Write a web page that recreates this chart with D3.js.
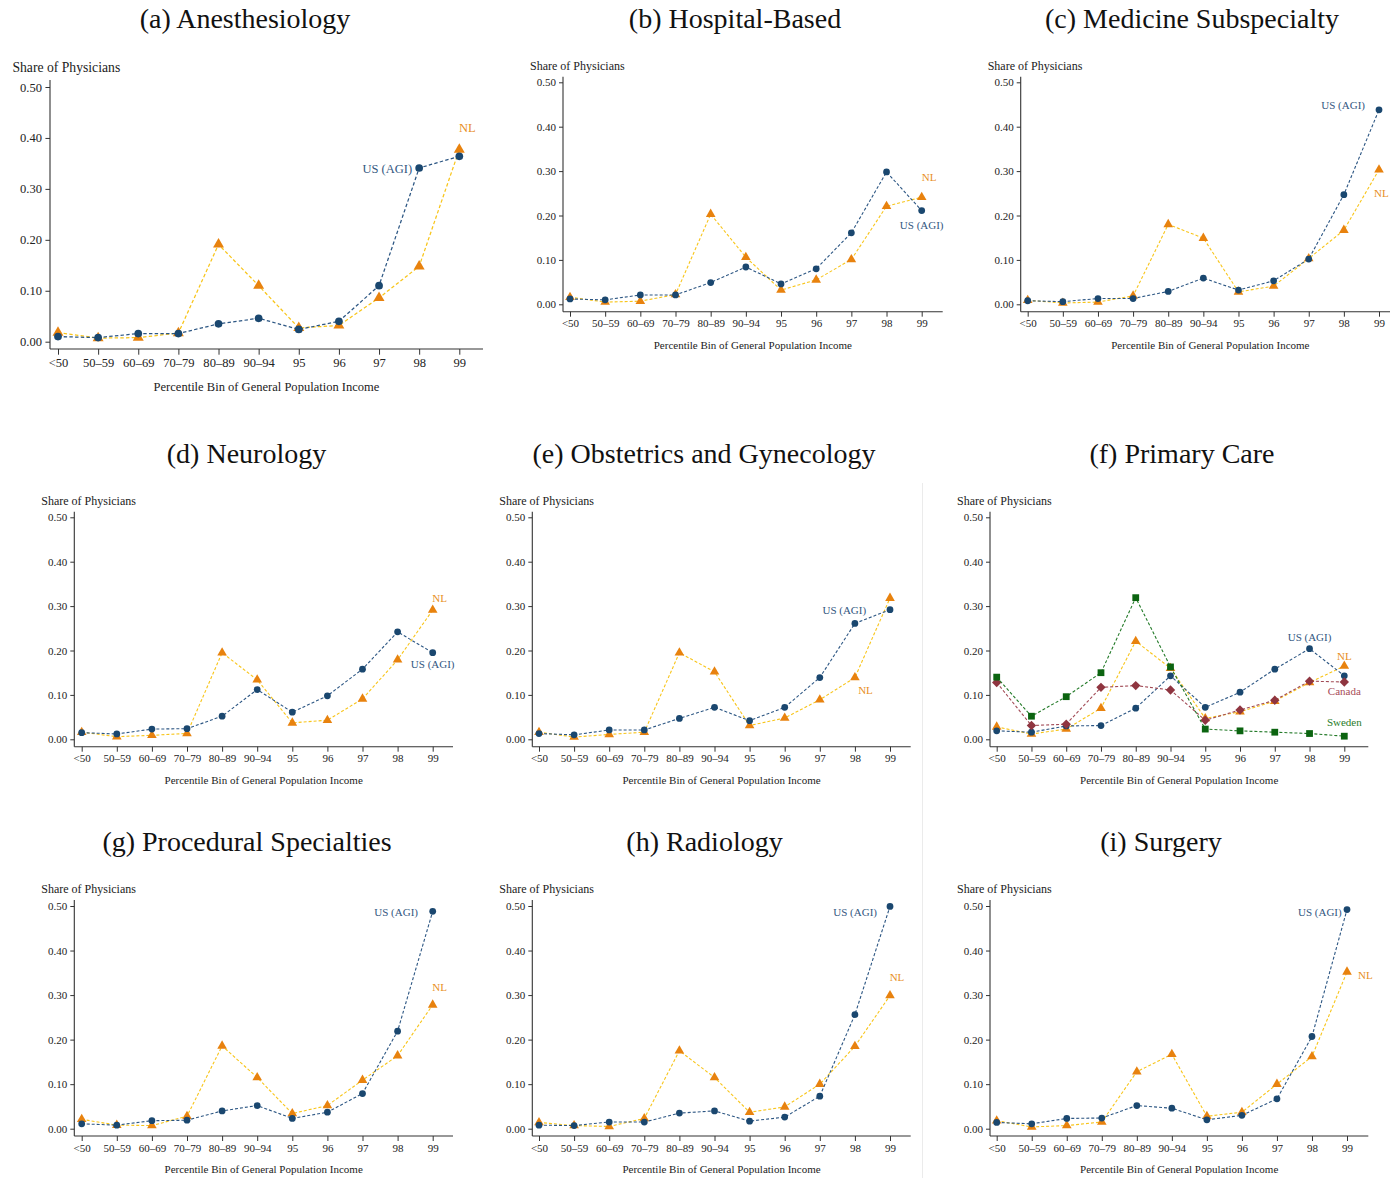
<!DOCTYPE html>
<html>
<head>
<meta charset="utf-8">
<script src="https://cdn.jsdelivr.net/npm/d3@7"></script>
<style>
  body { margin: 0; background: #fff; }
  svg { display: block; }
  text { font-family: "Liberation Serif", "Times New Roman", serif; }
</style>
</head>
<body>
<svg id="chart" width="1390" height="1178"></svg>
<script>
// ---- data -------------------------------------------------------------
const bins = ["<50", "50–59", "60–69", "70–79", "80–89", "90–94", "95", "96", "97", "98", "99"];
const yTicks = [0, 0.1, 0.2, 0.3, 0.4, 0.5];
const seriesNames = { us: "US (AGI)", nl: "NL", ca: "Canada", se: "Sweden" };

const anesthesiologyUS = [0.010, 0.008, 0.016, 0.016, 0.035, 0.046, 0.024, 0.040, 0.110, 0.341, 0.364];
const anesthesiologyNL = [0.018, 0.007, 0.008, 0.017, 0.191, 0.110, 0.027, 0.032, 0.086, 0.148, 0.377];
const hospitalUS = [0.012, 0.010, 0.021, 0.021, 0.049, 0.084, 0.046, 0.080, 0.161, 0.298, 0.211];
const hospitalNL = [0.016, 0.005, 0.007, 0.022, 0.203, 0.106, 0.032, 0.055, 0.101, 0.221, 0.241];
const medicineUS = [0.008, 0.006, 0.013, 0.013, 0.029, 0.059, 0.032, 0.053, 0.102, 0.247, 0.438];
const medicineNL = [0.009, 0.003, 0.005, 0.019, 0.180, 0.149, 0.028, 0.041, 0.103, 0.167, 0.303];
const neurologyUS = [0.015, 0.012, 0.023, 0.024, 0.052, 0.112, 0.061, 0.098, 0.158, 0.242, 0.195];
const neurologyNL = [0.016, 0.006, 0.009, 0.013, 0.195, 0.134, 0.037, 0.043, 0.091, 0.179, 0.291];
const obgynUS = [0.013, 0.010, 0.021, 0.021, 0.047, 0.072, 0.042, 0.072, 0.139, 0.261, 0.292];
const obgynNL = [0.016, 0.005, 0.011, 0.016, 0.195, 0.152, 0.031, 0.048, 0.089, 0.139, 0.318];
const primaryUS = [0.019, 0.016, 0.030, 0.031, 0.070, 0.143, 0.072, 0.106, 0.158, 0.204, 0.143];
const primaryNL = [0.028, 0.012, 0.023, 0.070, 0.221, 0.160, 0.047, 0.062, 0.086, 0.128, 0.165];
const primaryCA = [0.128, 0.031, 0.034, 0.117, 0.121, 0.111, 0.043, 0.066, 0.088, 0.131, 0.129];
const primarySE = [0.140, 0.052, 0.096, 0.150, 0.319, 0.163, 0.023, 0.019, 0.016, 0.013, 0.007];
const proceduralUS = [0.011, 0.008, 0.018, 0.019, 0.040, 0.052, 0.023, 0.037, 0.079, 0.219, 0.488];
const proceduralNL = [0.021, 0.008, 0.007, 0.028, 0.186, 0.115, 0.034, 0.052, 0.109, 0.164, 0.278];
const radiologyUS = [0.008, 0.007, 0.015, 0.015, 0.035, 0.040, 0.017, 0.026, 0.073, 0.256, 0.499];
const radiologyNL = [0.014, 0.007, 0.005, 0.023, 0.175, 0.115, 0.037, 0.049, 0.100, 0.185, 0.299];
const surgeryUS = [0.014, 0.011, 0.023, 0.024, 0.052, 0.046, 0.020, 0.030, 0.067, 0.207, 0.492];
const surgeryNL = [0.018, 0.004, 0.007, 0.015, 0.128, 0.167, 0.028, 0.037, 0.100, 0.162, 0.352];

// ---- series styling ---------------------------------------------------
const diamond = {
  draw(ctx, size) {
    const r = Math.sqrt(size / 2);
    ctx.moveTo(0, -r); ctx.lineTo(r, 0); ctx.lineTo(0, r); ctx.lineTo(-r, 0); ctx.closePath();
  }
};
const styles = {
  us: { marker: "#1a476f", line: "#2c5683", label: "#33577f", symbol: d3.symbolCircle, size: 36 },
  nl: { marker: "#e8820e", line: "#f8c51a", label: "#e88f1e", symbol: d3.symbolTriangle, size: 40 },
  ca: { marker: "#8f3540", line: "#a24b56", label: "#a84c57", symbol: diamond, size: 44 },
  se: { marker: "#0b6410", line: "#237a28", label: "#2a7d2a", symbol: d3.symbolSquare, size: 46 }
};

// ---- panel layout -----------------------------------------------------
// ax: y-axis x, x0/x1: first/last category, xEnd: end of x-axis line,
// y0/y5: pixel rows of 0 and 0.5, yTop: top of y-axis line, axY: x-axis row
const panels = [
  { title: "(a) Anesthesiology", tx: 245, ty: 28, k: 1.14,
    ax: 50, x0: 58, x1: 459.3, xEnd: 483, y0: 341.7, y5: 87, yTop: 80, axY: 349,
    series: [["nl", anesthesiologyNL], ["us", anesthesiologyUS]],
    labels: [["us", 9, -7, 5, "end"], ["nl", 10, 8, -18, "middle"]] },
  { title: "(b) Hospital-Based", tx: 735, ty: 28, k: 1,
    ax: 563, x0: 570, x1: 921.7, xEnd: 942.7, y0: 304.3, y5: 82.3, yTop: 76.7, axY: 311.7,
    series: [["nl", hospitalNL], ["us", hospitalUS]],
    labels: [["nl", 10, 7.5, -16.6, "middle"], ["us", 10, 0, 18.4, "middle"]] },
  { title: "(c) Medicine Subspecialty", tx: 1192, ty: 28, k: 1,
    ax: 1020.7, x0: 1027.7, x1: 1379, xEnd: 1400, y0: 304.3, y5: 82.3, yTop: 76.7, axY: 311.7,
    series: [["nl", medicineNL], ["us", medicineUS]],
    labels: [["us", 10, -14, -1, "end"], ["nl", 10, -5, 27, "start"]] },
  { title: "(d) Neurology", tx: 246.5, ty: 463, k: 1,
    ax: 74.3, x0: 81.7, x1: 432.7, xEnd: 453, y0: 739.3, y5: 517.3, yTop: 511.7, axY: 746.7,
    series: [["nl", neurologyNL], ["us", neurologyUS]],
    labels: [["nl", 10, 7, -8.5, "middle"], ["us", 10, 0, 15.5, "middle"]] },
  { title: "(e) Obstetrics and Gynecology", tx: 704, ty: 463, k: 1,
    ax: 532.3, x0: 539, x1: 890, xEnd: 910.7, y0: 739.3, y5: 517.3, yTop: 511.7, axY: 746.7,
    series: [["nl", obgynNL], ["us", obgynUS]],
    labels: [["us", 9, -10.6, -9.4, "middle"], ["nl", 9, 10.6, 16.4, "middle"]] },
  { title: "(f) Primary Care", tx: 1182, ty: 463, k: 1,
    ax: 990, x0: 996.7, x1: 1344.3, xEnd: 1368.3, y0: 739.3, y5: 517.3, yTop: 511.7, axY: 746.7,
    series: [["nl", primaryNL], ["us", primaryUS], ["ca", primaryCA], ["se", primarySE]],
    labels: [["us", 9, 0, -8, "middle"], ["nl", 10, 0, -6.3, "middle"],
             ["ca", 10, 0, 12.7, "middle"], ["se", 10, 0, -10, "middle"]] },
  { title: "(g) Procedural Specialties", tx: 247, ty: 851, k: 1,
    ax: 74.3, x0: 81.7, x1: 432.7, xEnd: 453, y0: 1128.7, y5: 906, yTop: 900, axY: 1136,
    series: [["nl", proceduralNL], ["us", proceduralUS]],
    labels: [["us", 10, -14.7, 4.6, "end"], ["nl", 10, 7, -14, "middle"]] },
  { title: "(h) Radiology", tx: 704.5, ty: 851, k: 1,
    ax: 532.3, x0: 539, x1: 890, xEnd: 910.7, y0: 1128.7, y5: 906, yTop: 900, axY: 1136,
    series: [["nl", radiologyNL], ["us", radiologyUS]],
    labels: [["us", 10, -13, 9.6, "end"], ["nl", 10, 7, -14.7, "middle"]] },
  { title: "(i) Surgery", tx: 1161, ty: 851, k: 1,
    ax: 990, x0: 996.7, x1: 1347, xEnd: 1368.3, y0: 1128.7, y5: 906, yTop: 900, axY: 1136,
    series: [["nl", surgeryNL], ["us", surgeryUS]],
    labels: [["us", 10, -5.3, 6.4, "end"], ["nl", 10, 11, 7, "start"]] }
];

// ---- drawing ----------------------------------------------------------
const svg = d3.select("#chart");
svg.append("rect").attr("width", 1390).attr("height", 1178).attr("fill", "#fff");

// thin divider between the middle and right columns
svg.append("line")
  .attr("x1", 922.5).attr("x2", 922.5).attr("y1", 483).attr("y2", 1178)
  .attr("stroke", "#ebebeb").attr("stroke-width", 1);

const axisColor = "#333";

panels.forEach(p => {
  const k = p.k;
  const g = svg.append("g");
  const x = d3.scalePoint().domain(bins).range([p.x0, p.x1]);
  const y = d3.scaleLinear().domain([0, 0.5]).range([p.y0, p.y5]);

  // panel title
  g.append("text")
    .attr("x", p.tx).attr("y", p.ty)
    .attr("text-anchor", "middle")
    .attr("font-size", 28).attr("fill", "#111")
    .text(p.title);

  // y axis
  const yAx = g.append("g")
    .attr("transform", `translate(${p.ax},0)`)
    .call(d3.axisLeft(y).tickValues(yTicks).tickFormat(d3.format(".2f"))
      .tickSize(4 * k).tickPadding(3 * k));
  yAx.select(".domain").remove();
  yAx.selectAll("line").attr("stroke", axisColor);
  yAx.selectAll("text").attr("fill", "#222").attr("font-size", 11 * k)
    .attr("font-family", "Liberation Serif, serif");
  yAx.attr("font-family", null).attr("font-size", null);

  g.append("line")
    .attr("x1", p.ax).attr("x2", p.ax).attr("y1", p.yTop).attr("y2", p.axY)
    .attr("stroke", axisColor).attr("stroke-width", 1.1);

  // x axis
  const xAx = g.append("g")
    .attr("transform", `translate(0,${p.axY})`)
    .call(d3.axisBottom(x).tickSize(5 * k).tickPadding(3 * k));
  xAx.select(".domain").remove();
  xAx.selectAll("line").attr("stroke", axisColor);
  xAx.selectAll("text").attr("fill", "#222").attr("font-size", 11 * k)
    .attr("font-family", "Liberation Serif, serif");
  xAx.attr("font-family", null).attr("font-size", null);

  g.append("line")
    .attr("x1", p.ax).attr("x2", p.xEnd).attr("y1", p.axY).attr("y2", p.axY)
    .attr("stroke", axisColor).attr("stroke-width", 1.1);

  // axis titles
  g.append("text")
    .attr("x", p.ax - 33 * k).attr("y", p.yTop - 7 * k)
    .attr("font-size", 12 * k).attr("fill", "#222")
    .text("Share of Physicians");
  g.append("text")
    .attr("x", (p.ax + p.xEnd) / 2).attr("y", p.axY + 37 * k)
    .attr("text-anchor", "middle")
    .attr("font-size", 11 * k).attr("fill", "#222")
    .text("Percentile Bin of General Population Income");

  // series: dashed connecting line then markers
  const line = d3.line().x((d, i) => x(bins[i])).y(d => y(d));
  p.series.forEach(([key, vals]) => {
    const s = styles[key];
    g.append("path")
      .datum(vals)
      .attr("d", line)
      .attr("fill", "none")
      .attr("stroke", s.line)
      .attr("stroke-width", 1.1 * k)
      .attr("stroke-dasharray", `${3 * k},${2 * k}`);
    const sym = d3.symbol(s.symbol, s.size * k * k);
    g.selectAll(null)
      .data(vals)
      .join("path")
      .attr("d", sym)
      .attr("transform", (d, i) => `translate(${x(bins[i])},${y(d)})`)
      .attr("fill", s.marker);
  });

  // series labels, placed next to a point of the series
  p.labels.forEach(([key, idx, dx, dy, anchor]) => {
    const vals = p.series.find(s => s[0] === key)[1];
    g.append("text")
      .attr("x", x(bins[idx]) + dx)
      .attr("y", y(vals[idx]) + dy)
      .attr("text-anchor", anchor)
      .attr("font-size", 11 * k)
      .attr("fill", styles[key].label)
      .text(seriesNames[key]);
  });
});
</script>
</body>
</html>
